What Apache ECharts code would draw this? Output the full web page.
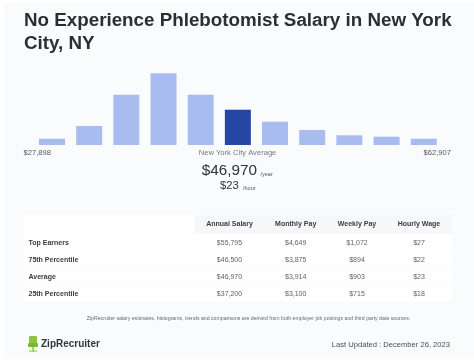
<!DOCTYPE html>
<html>
<head>
<meta charset="utf-8">
<style>
  html, body { margin: 0; padding: 0; background: #fff; }
  #chart { width: 474px; height: 361px; }
</style>
<script src="https://cdn.jsdelivr.net/npm/echarts@6/dist/echarts.min.js"></script>
</head>
<body>
<div id="chart"></div>
<script>
// Histogram bars, heights
const bins = ['1', '2', '3', '4', '5', '6', '7', '8', '9', '10', '11'];
const binValues = [6.3, 19, 50.3, 71.7, 50.3, 35.3, 23.3, 15, 9.7, 8.3, 6.3];
const averageBin = 5;

// Salary table
const tableColumns = ['Annual Salary', 'Monthly Pay', 'Weekly Pay', 'Hourly Wage'];
const tableRows = ['Top Earners', '75th Percentile', 'Average', '25th Percentile'];
const annualSalary = ['$55,795', '$46,500', '$46,970', '$37,200'];
const monthlyPay = ['$4,649', '$3,875', '$3,914', '$3,100'];
const weeklyPay = ['$1,072', '$894', '$903', '$715'];
const hourlyWage = ['$27', '$22', '$23', '$18'];

const FONT = '"Liberation Sans", Arial, sans-serif';
const columnX = [229.5, 295.7, 357, 419];
const rowY = [242.7, 259.7, 276.7, 293.7];

function txt(x, y, text, size, color, align, weight) {
    return {
        type: 'text',
        x: x,
        y: y,
        z: 5,
        style: {
            text: text,
            font: (weight || 'normal') + ' ' + size + 'px ' + FONT,
            fill: color,
            align: align || 'left',
            verticalAlign: 'middle'
        }
    };
}

function box(x, y, w, h, color, z) {
    return { type: 'rect', z: z || 1, shape: { x: x, y: y, width: w, height: h }, style: { fill: color } };
}

const elements = [
    box(4, 3, 470, 355, '#fafbfd', 0),

    txt(24, 21, 'No Experience Phlebotomist Salary in New York', 18.8, '#2b2f33', 'left', 'bold'),
    txt(24, 44, 'City, NY', 18.8, '#2b2f33', 'left', 'bold'),

    txt(23.5, 153, '$27,898', 7.6, '#55585c'),
    txt(237.5, 153, 'New York City Average', 7.6, '#77797d', 'center'),
    txt(451, 153, '$62,907', 7.6, '#55585c', 'right'),

    txt(201.7, 171, '$46,970', 15.3, '#2f3236'),
    txt(260.5, 174, '/year', 5.5, '#55585c'),
    txt(220, 186, '$23', 11.2, '#2f3236'),
    txt(243, 188, '/hour', 5.5, '#55585c'),

    // table background
    box(24, 215, 171, 18, '#ffffff'),
    box(195, 215, 257, 18, '#f6f7f9'),
    box(24, 234, 428, 16, '#ffffff'),
    box(24, 251, 428, 16, '#ffffff'),
    box(24, 268, 428, 16, '#ffffff'),
    box(24, 285, 428, 16, '#ffffff'),

    txt(248.5, 319, 'ZipRecruiter salary estimates, histograms, trends and comparisons are derived from both employer job postings and third party data sources.', 5.2, '#66696d', 'center'),

    // logo: green chair
    { type: 'rect', z: 3, shape: { x: 29, y: 336, width: 8, height: 11, r: 1 }, style: { fill: '#8cc63f' } },
    { type: 'rect', z: 3, shape: { x: 28, y: 343, width: 10, height: 4, r: 1 }, style: { fill: '#7ab82e' } },
    box(32.3, 347, 1.6, 5, '#8cc63f', 3),
    box(29, 350.5, 8, 1.2, '#9fd05a', 3),
    txt(41, 344, 'ZipRecruiter', 10, '#33363a', 'left', 'bold'),

    txt(450, 344.5, 'Last Updated : December 26, 2023', 7.6, '#4a4d51', 'right')
];

tableColumns.forEach(function (name, c) {
    elements.push(txt(columnX[c], 224, name, 7, '#3a3d41', 'center', 'bold'));
});
tableRows.forEach(function (name, r) {
    elements.push(txt(28.5, rowY[r], name, 7, '#3a3d41', 'left', 'bold'));
    [annualSalary, monthlyPay, weeklyPay, hourlyWage].forEach(function (col, c) {
        elements.push(txt(columnX[c], rowY[r], col[r], 7, '#5f6266', 'center'));
    });
});

const chart = echarts.init(document.getElementById('chart'), null, { renderer: 'canvas' });

chart.setOption({
    animation: false,
    grid: { left: 33.4, top: 65, width: 408.9, height: 80 },
    xAxis: {
        type: 'category',
        data: bins,
        axisLine: { show: false },
        axisTick: { show: false },
        axisLabel: { show: false }
    },
    yAxis: {
        type: 'value',
        min: 0,
        max: 80,
        show: false
    },
    series: [{
        type: 'bar',
        barWidth: 26,
        z: 4,
        data: binValues.map(function (value, i) {
            return { value: value, itemStyle: { color: i === averageBin ? '#2547a3' : '#a9bcef' } };
        })
    }],
    graphic: { elements: elements }
});
</script>
</body>
</html>
